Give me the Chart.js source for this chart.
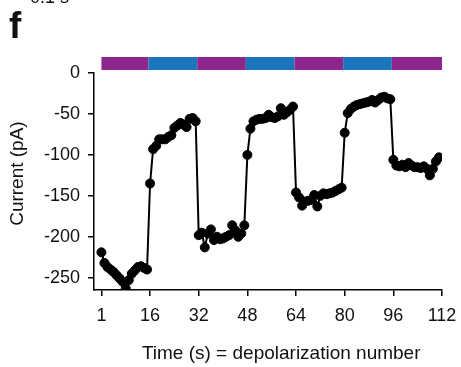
<!DOCTYPE html>
<html>
<head>
<meta charset="utf-8">
<script src="https://cdn.jsdelivr.net/npm/chart.js@4.4.1/dist/chart.umd.min.js"></script>
<style>
  body { margin: 0; background: #fff; }
  canvas { display: block; }
</style>
</head>
<body>
<canvas id="currentChart" width="461" height="367"></canvas>
<script>
// current per depolarization (index 0 = depolarization 1)
const currentPA = [
    -219, -232, -237, -240, -243, -247, -251, -255, -263, -253, -245, -241, -237, -236, -238, -240,
    -135, -93, -89, -81, -81, -81, -78, -76, -67, -64, -61, -63, -66, -56, -55, -59,
    -198, -195, -213, -196, -191, -204, -200, -203, -202, -200, -198, -186, -192, -200, -196, -186,
    -100, -68, -59, -57, -56, -56, -55, -51, -54, -55, -53, -43, -51, -48, -45, -41,
    -146, -152, -162, -157, -156, -155, -149, -163, -150, -147, -148, -147, -146, -144, -142, -140,
    -73, -49, -44, -41, -39, -38, -37, -36, -35, -33, -36, -33, -30, -29, -31, -32,
    -106, -113, -114, -112, -115, -110, -113, -115, -115, -116, -114, -117, -125, -117, -108, -103
];

const xTickValues = [0, 16, 32, 48, 64, 80, 96, 112];
const xTickLabels = ['1', '16', '32', '48', '64', '80', '96', '112'];
const yTickValues = [0, -50, -100, -150, -200, -250];

// stimulus bar on top
const stimEdges = [0, 15.5, 31.5, 47.5, 63.5, 79.5, 95.5, 112];
const stimColors = ['#8e278c', '#1a75bb', '#8e278c', '#1a75bb', '#8e278c', '#1a75bb', '#8e278c'];

const fontFamily = '"Liberation Sans", Arial, Helvetica, sans-serif';

const stimBarPlugin = {
    id: 'stimBar',
    afterDraw(chart) {
        const ctx = chart.ctx;
        const xScale = chart.scales.x;
        ctx.save();
        for (let i = 0; i < stimColors.length; i++) {
            const x0 = xScale.getPixelForValue(stimEdges[i]);
            const x1 = xScale.getPixelForValue(stimEdges[i + 1]);
            ctx.fillStyle = stimColors[i];
            ctx.fillRect(x0, 57, x1 - x0, 13);
        }
        // panel letter
        ctx.fillStyle = '#111';
        ctx.font = 'bold 37px ' + fontFamily;
        ctx.textBaseline = 'alphabetic';
        ctx.fillText('f', 9, 38);
        // clipped label from the panel above
        ctx.font = '18px ' + fontFamily;
        ctx.fillText('0.1 s', 30, 3);
        ctx.restore();
    }
};

const data = currentPA.map((v, i) => ({ x: i, y: v }));

new Chart(document.getElementById('currentChart').getContext('2d'), {
    type: 'line',
    data: {
        datasets: [{
            data: data,
            borderColor: '#000',
            backgroundColor: '#000',
            borderWidth: 2,
            pointRadius: 4.5,
            pointBorderWidth: 1,
            pointBackgroundColor: '#000',
            pointBorderColor: '#000',
            tension: 0
        }]
    },
    options: {
        responsive: false,
        animation: false,
        layout: {
            padding: { top: 73, right: 19, bottom: 0, left: 0 }
        },
        plugins: {
            legend: { display: false },
            tooltip: { enabled: false }
        },
        scales: {
            x: {
                type: 'linear',
                min: -2.44,
                max: 112,
                afterBuildTicks: scale => {
                    scale.ticks = xTickValues.map(v => ({ value: v }));
                },
                afterFit: scale => {
                    scale.height = 77;
                    scale.paddingLeft = 0;
                    scale.paddingRight = 0;
                },
                border: { display: true, color: '#000', width: 1.5 },
                grid: { display: true, drawOnChartArea: false, drawTicks: true, tickLength: 6, color: '#000', lineWidth: 1.5 },
                ticks: {
                    padding: 9,
                    color: '#111',
                    maxRotation: 0,
                    font: { family: fontFamily, size: 18 },
                    callback: value => xTickLabels[xTickValues.indexOf(value)]
                },
                title: {
                    display: true,
                    text: '     Time (s) = depolarization number',
                    color: '#111',
                    font: { family: fontFamily, size: 19 },
                    padding: { top: 0, bottom: 2 }
                }
            },
            y: {
                type: 'linear',
                min: -265,
                max: 0,
                afterBuildTicks: scale => {
                    scale.ticks = yTickValues.map(v => ({ value: v }));
                },
                afterFit: scale => { scale.width = 94; },
                border: { display: true, color: '#000', width: 1.5 },
                grid: { display: true, drawOnChartArea: false, drawTicks: true, tickLength: 6, color: '#000', lineWidth: 1.5 },
                ticks: {
                    padding: 8,
                    color: '#111',
                    font: { family: fontFamily, size: 18 }
                },
                title: {
                    display: true,
                    text: '   Current (pA)',
                    color: '#111',
                    font: { family: fontFamily, size: 19 },
                    padding: { top: 6, bottom: 0 }
                }
            }
        }
    },
    plugins: [stimBarPlugin]
});
</script>
</body>
</html>
